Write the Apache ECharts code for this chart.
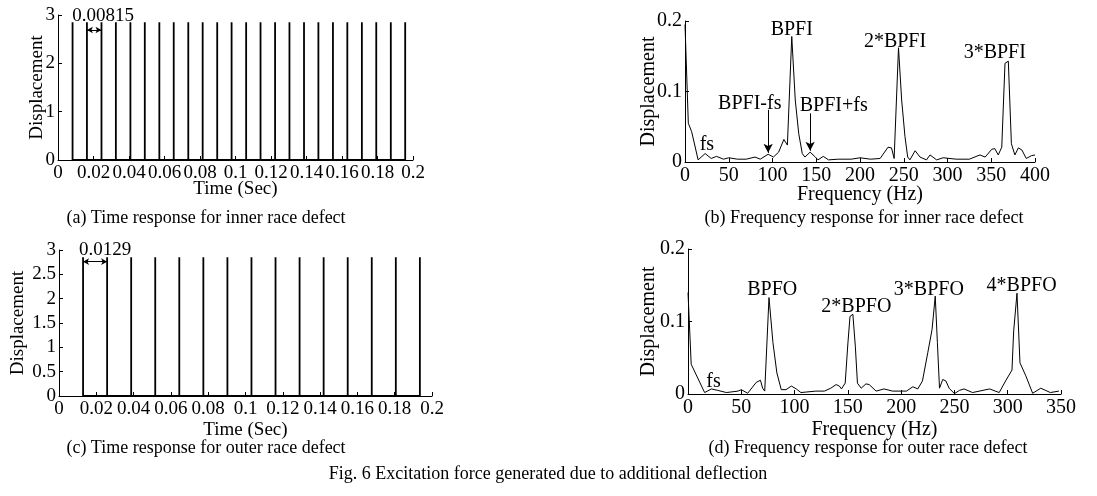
<!DOCTYPE html>
<html>
<head>
<meta charset="utf-8">
<script src="https://cdn.jsdelivr.net/npm/echarts@6/dist/echarts.min.js"></script>
<style>
html,body{margin:0;padding:0;background:#fff;}
#chart{width:1097px;height:496px;}
</style>
</head>
<body>
<div id="chart"></div>
<script>
// ---------- DATA ----------
// (a) inner race: impulse times (s), period 0.00815
var spikeTimesA = [0.0082,0.0163,0.0245,0.0326,0.0408,0.0489,0.0571,0.0652,0.0734,0.0815,0.0897,0.0978,0.1060,0.1141,0.1223,0.1304,0.1386,0.1467,0.1549,0.1630,0.1712,0.1793,0.1875,0.1956];
var spikeHeightA = 2.85;
// (c) outer race: impulse times (s), period 0.0129
var spikeTimesC = [0.0129,0.0258,0.0387,0.0516,0.0645,0.0774,0.0903,0.1032,0.1161,0.1290,0.1419,0.1548,0.1677,0.1806,0.1935];
var spikeHeightC = 2.85;

// (b) frequency response, inner race
var freqB = [0,3.8,7.6,15,23,30,36,44,50,60,70,80,86,95,101,107,113,117,122,126,130,134,137,143,149,152,158,164,175,190,200,212,223,232,236,239,241,244,247.6,251.4,254.5,257,263,268.6,276,280,287.6,295,310,325,337,343,350.5,354,358,362,365.7,369.5,373,377,381,385,390,396,400];
var ampB  = [0.195,0.055,0.043,0.003,0.012,0.005,0.008,0.004,0.006,0.004,0.004,0.007,0.004,0.011,0.007,0.014,0.032,0.024,0.178,0.088,0.040,0.012,0.007,0.014,0.007,0.003,0.008,0.003,0.004,0.004,0.006,0.004,0.005,0.021,0.020,0.005,0.003,0.162,0.088,0.036,0.007,0.003,0.016,0.007,0.003,0.010,0.003,0.006,0.004,0.004,0.010,0.007,0.018,0.019,0.010,0.021,0.140,0.143,0.026,0.010,0.020,0.017,0.005,0.009,0.010];

// (d) frequency response, outer race
var freqD = [0,3,15.6,22,28,36,47,50,56,64,68,70,72,76,79.7,83.4,87.5,92,97,101.6,106,120,128,134,139,142,144,147.5,150,152,154.7,157,159,162.5,167,170,176.5,184,192,205,211,215.6,220,225,229,232,234,236,239,242,245,250,254.7,259,267,283,292,298,304,305.6,308.7,311.5,317,323.4,331,340,348];
var ampD  = [0.14,0.041,0.002,0.007,0.005,0.002,0.004,0.006,0.001,0.016,0.019,0.008,0.004,0.133,0.071,0.029,0.006,0.006,0.011,0.007,0.002,0.004,0.004,0.008,0.013,0.011,0.007,0.015,0.069,0.107,0.110,0.066,0.015,0.008,0.014,0.013,0.004,0.007,0.004,0.004,0.010,0.007,0.018,0.057,0.089,0.135,0.071,0.008,0.020,0.018,0.008,0.0005,0.005,0.007,0.002,0.007,0.002,0.018,0.033,0.087,0.139,0.043,0.025,0.001,0.008,0.002,0.004];

// annotations [text, x, y]
var notesA = [["0.00815", 0.0254, 2.97]];
var notesC = [["0.0129", 0.0247, 3.0]];
var notesB = [["BPFI",122,0.188],["2*BPFI",240,0.170],["3*BPFI",354,0.155],["BPFI-fs",74,0.083],["BPFI+fs",170,0.080],["fs",25,0.025]];
var notesD = [["BPFO",79,0.144],["2*BPFO",158,0.121],["3*BPFO",226,0.144],["4*BPFO",313,0.149],["fs",24,0.017]];
// arrows [x1,y1,x2,y2]
var arrowsA = [[0.0163,2.69,0.0245,2.69]];
var arrowsC = [[0.0129,2.76,0.0258,2.76]];
var arrowsB = [[95,0.074,95,0.013],[143,0.069,143,0.016]];

var captions = [
  ["(a) Time response for inner race defect", 206, 218],
  ["(b) Frequency response for inner race defect", 864, 218],
  ["(c) Time response for outer race defect", 206, 448],
  ["(d) Frequency response for outer race defect", 868, 448],
  ["Fig. 6 Excitation force generated due to additional deflection", 548, 474]
];

// ---------- BUILD ----------
var FONT = "'Liberation Serif','Times New Roman',serif";
function spikeData(times, h){
  var d = [];
  times.forEach(function(t){ d.push([t,0]); d.push([t,h]); d.push([t,0]); });
  return d;
}
function pairs(xs, ys){ return xs.map(function(x,i){ return [x, ys[i]]; }); }

function xAxisDef(gi, min, max, interval, name, fs, gap){
  return {
    gridIndex: gi, type:'value', min:min, max:max, interval:interval,
    name:name, nameLocation:'middle', nameGap:gap, nameMoveOverlap:false,
    nameTextStyle:{color:'#000', fontFamily:FONT, fontSize:fs},
    axisLine:{show:true, onZero:false, lineStyle:{color:'#000', width:1}},
    axisTick:{show:true, inside:true, length:4, lineStyle:{color:'#000'}},
    axisLabel:{color:'#000', fontFamily:FONT, fontSize:fs, margin:4, interval:0, hideOverlap:false, showMinLabel:true, showMaxLabel:true},
    splitLine:{show:false}
  };
}
function yAxisDef(gi, min, max, interval, fs, gap){
  return {
    gridIndex: gi, type:'value', min:min, max:max, interval:interval,
    name:'Displacement', nameLocation:'middle', nameGap:gap, nameRotate:90, nameMoveOverlap:false,
    nameTextStyle:{color:'#000', fontFamily:FONT, fontSize:fs},
    axisLine:{show:true, onZero:false, lineStyle:{color:'#000', width:1}},
    axisTick:{show:true, inside:true, length:4, lineStyle:{color:'#000'}},
    axisLabel:{color:'#000', fontFamily:FONT, fontSize:fs, margin:3, showMinLabel:true, showMaxLabel:true},
    splitLine:{show:false}
  };
}
function noteSeries(gi, notes, fs){
  return {
    type:'scatter', xAxisIndex:gi, yAxisIndex:gi, symbol:'circle', symbolSize:0.1, silent:true,
    itemStyle:{color:'#000', opacity:1},
    label:{show:true, position:'inside', color:'#000', opacity:1, fontFamily:FONT, fontSize:fs,
      textBorderWidth:0,
      formatter:function(p){ return p.data.name; }},
    emphasis:{disabled:true},
    data: notes.map(function(n){ return {name:n[0], value:[n[1], n[2]]}; }),
    z:5
  };
}
function arrowMark(arrows, both){
  return {
    silent:true, animation:false,
    symbol: both ? ['arrow','arrow'] : ['none','arrow'],
    symbolSize: both ? [5,6] : [7,9],
    lineStyle:{color:'#000', width:1, type:'solid'},
    label:{show:false},
    data: arrows.map(function(a){ return [{coord:[a[0],a[1]]},{coord:[a[2],a[3]]}]; })
  };
}

var option = {
  animation:false,
  backgroundColor:'#fff',
  grid:[
    {left:58, top:15, width:355, height:145},
    {left:685, top:21, width:350, height:141},
    {left:59, top:250, width:373, height:146},
    {left:688, top:249, width:373, height:145}
  ],
  xAxis:[
    xAxisDef(0, 0, 0.2, 0.02, 'Time (Sec)', 19, 20),
    xAxisDef(1, 0, 400, 50, 'Frequency (Hz)', 20, 23),
    xAxisDef(2, 0, 0.2, 0.02, 'Time (Sec)', 19, 25),
    xAxisDef(3, 0, 350, 50, 'Frequency (Hz)', 20, 26)
  ],
  yAxis:[
    yAxisDef(0, 0, 3, 1, 19, 11),
    yAxisDef(1, 0, 0.2, 0.1, 20, 26),
    yAxisDef(2, 0, 3, 0.5, 19, 31),
    yAxisDef(3, 0, 0.2, 0.1, 20, 29)
  ],
  series:[
    {type:'line', xAxisIndex:0, yAxisIndex:0, data:spikeData(spikeTimesA, spikeHeightA), showSymbol:false, symbol:'none',
      lineStyle:{color:'#000', width:1.8}, markLine:arrowMark(arrowsA, true)},
    {type:'line', xAxisIndex:1, yAxisIndex:1, data:pairs(freqB, ampB), showSymbol:false, symbol:'none',
      lineStyle:{color:'#000', width:1}, markLine:arrowMark(arrowsB, false)},
    {type:'line', xAxisIndex:2, yAxisIndex:2, data:spikeData(spikeTimesC, spikeHeightC), showSymbol:false, symbol:'none',
      lineStyle:{color:'#000', width:1.8}, markLine:arrowMark(arrowsC, true)},
    {type:'line', xAxisIndex:3, yAxisIndex:3, data:pairs(freqD, ampD), showSymbol:false, symbol:'none',
      lineStyle:{color:'#000', width:1}},
    noteSeries(0, notesA, 19),
    noteSeries(1, notesB, 20),
    noteSeries(2, notesC, 19),
    noteSeries(3, notesD, 20)
  ],
  graphic: captions.map(function(c){
    return {type:'text', x:c[1], y:c[2], silent:true,
      style:{text:c[0], fill:'#000', font:'18px ' + FONT, textAlign:'center', textVerticalAlign:'middle'}};
  })
};

var chart = echarts.init(document.getElementById('chart'), null, {renderer:'canvas'});
chart.setOption(option);
</script>
</body>
</html>
